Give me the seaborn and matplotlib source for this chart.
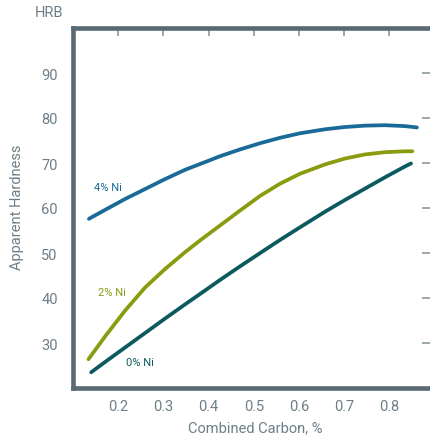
import matplotlib
matplotlib.use("Agg")
import matplotlib.pyplot as plt
import matplotlib.lines as mlines
import seaborn as sns
import pandas as pd

# ---- data ----
carbon_4ni = [0.135, 0.171, 0.215, 0.259, 0.303, 0.348, 0.392, 0.425, 0.469, 0.514,
              0.558, 0.602, 0.658, 0.702, 0.746, 0.790, 0.834, 0.861]
hard_4ni = [57.6, 59.6, 62.0, 64.2, 66.4, 68.5, 70.2, 71.5, 73.0, 74.4,
            75.6, 76.6, 77.5, 78.0, 78.3, 78.4, 78.2, 77.9]

carbon_2ni = [0.134, 0.171, 0.215, 0.259, 0.303, 0.348, 0.381, 0.425, 0.469, 0.514,
              0.558, 0.602, 0.658, 0.702, 0.746, 0.790, 0.834, 0.851]
hard_2ni = [26.4, 31.5, 37.2, 42.3, 46.4, 50.2, 52.8, 56.1, 59.4, 62.7,
            65.4, 67.6, 69.7, 71.0, 71.9, 72.4, 72.6, 72.6]

carbon_0ni = [0.140, 0.171, 0.215, 0.259, 0.303, 0.348, 0.381, 0.425, 0.469, 0.514,
              0.558, 0.602, 0.658, 0.702, 0.746, 0.790, 0.834, 0.848]
hard_0ni = [23.5, 25.8, 29.0, 32.2, 35.4, 38.6, 40.9, 44.0, 47.0, 50.0,
            52.9, 55.7, 59.2, 61.8, 64.3, 66.8, 69.2, 69.9]

series_names = ["4% Ni", "2% Ni", "0% Ni"]
x_ticks = [0.2, 0.3, 0.4, 0.5, 0.6, 0.7, 0.8]
y_ticks = [30, 40, 50, 60, 70, 80, 90]

colors = {"4% Ni": "#196a98", "2% Ni": "#8a9b10", "0% Ni": "#0c5a5f"}
label_pos = {"4% Ni": (0.177, 64.7), "2% Ni": (0.186, 41.3), "0% Ni": (0.248, 25.8)}

frames = []
for name, xs, ys in zip(series_names,
                        [carbon_4ni, carbon_2ni, carbon_0ni],
                        [hard_4ni, hard_2ni, hard_0ni]):
    frames.append(pd.DataFrame({"carbon": xs, "hardness": ys, "series": name}))
df = pd.concat(frames, ignore_index=True)

sns.set_style("white", {"axes.spines.right": False})
plt.rcParams["font.family"] = ["Roboto", "DejaVu Sans"]

grey_text = "#6e7e88"
spine_col = "#5a6a74"
tick_col = "#7f8d96"

fig = plt.figure(figsize=(4.30, 4.39), dpi=100)
ax = fig.add_axes([73 / 430, 50 / 439, (430 - 73) / 430, 360 / 439])

sns.lineplot(data=df, x="carbon", y="hardness", hue="series", palette=colors,
             linewidth=2.7, legend=False, ax=ax,
             solid_capstyle="round", solid_joinstyle="round")

for name in series_names:
    xx, yy = label_pos[name]
    ax.text(xx, yy, name, color=colors[name], fontsize=8,
            ha="center", va="center")

ax.set_xlim(0.0997, 0.890)
ax.set_ylim(20, 100)
ax.set_xticks(x_ticks)
ax.set_yticks(y_ticks)
ax.set_xticklabels([f"{v:.1f}" for v in x_ticks])
ax.set_yticklabels([str(v) for v in y_ticks])

ax.tick_params(axis="both", direction="in", length=6, width=1.1,
               color=tick_col, labelcolor=grey_text, labelsize=10.5,
               top=True, right=True, labelright=False, labeltop=False)
ax.tick_params(axis="y", pad=11)
ax.tick_params(axis="x", pad=8)

# frame: hide all spines, draw left/top/bottom borders explicitly
for side in ["left", "top", "bottom", "right"]:
    ax.spines[side].set_visible(False)
frame_kw = dict(transform=ax.transAxes, color=spine_col, linewidth=3.3,
                clip_on=False, solid_capstyle="projecting", zorder=5)
ax.add_line(mlines.Line2D([0, 0], [0, 1], **frame_kw))
ax.add_line(mlines.Line2D([0, 1.01], [1, 1], **frame_kw))
ax.add_line(mlines.Line2D([0, 1.01], [0, 0], **frame_kw))

ax.set_xlabel("")
ax.set_ylabel("")
fig.text(255 / 430, 1 - 428 / 439, "Combined Carbon, %", color=grey_text,
         fontsize=10.5, ha="center", va="center")
fig.text(17 / 430, 1 - 207 / 439, "Apparent Hardness", color=grey_text,
         fontsize=10.5, ha="center", va="center", rotation=90)
fig.text(49 / 430, 1 - 13 / 439, "HRB", color=grey_text,
         fontsize=10.5, ha="center", va="center")

fig.savefig("out.png", dpi=100)
